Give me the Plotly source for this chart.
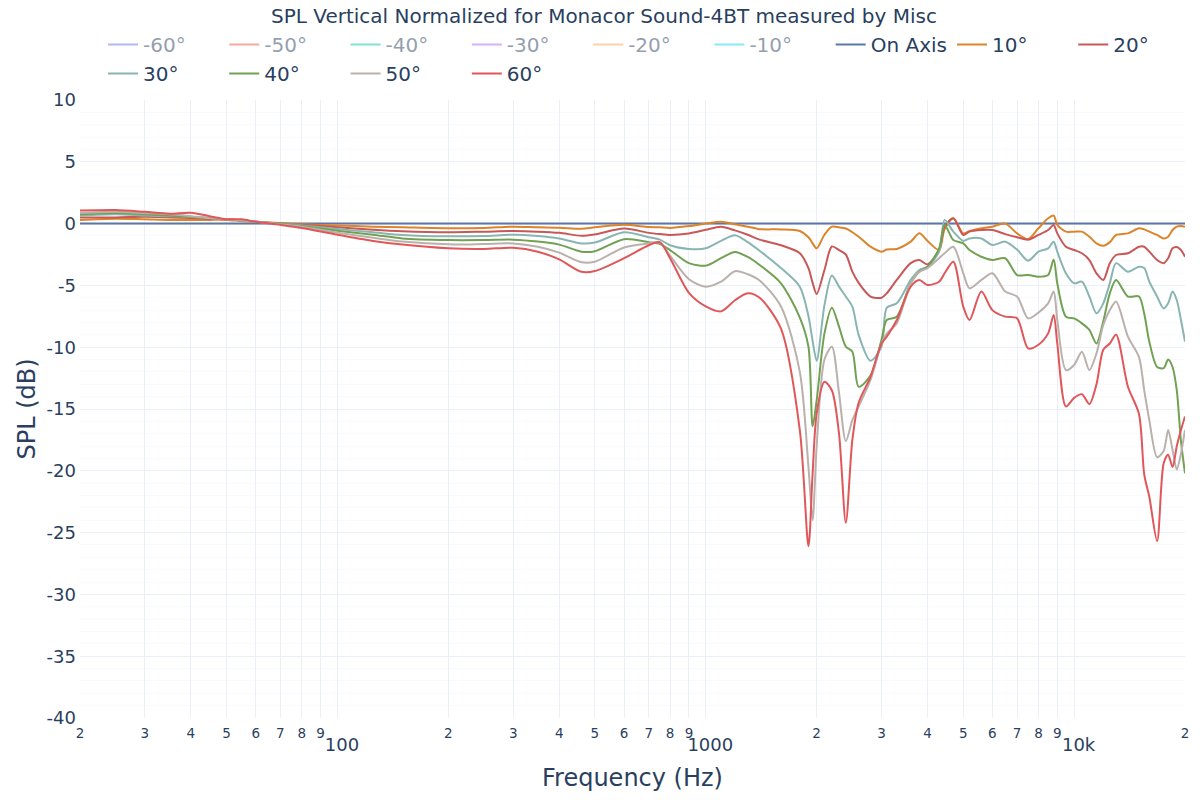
import math
import plotly.graph_objects as go

# ---------------- data ----------------
freq = [20, 25, 30, 35, 40, 45, 50, 55, 60, 70,
        80, 100, 125, 150, 200, 250, 300, 350, 400, 460,
        500, 600, 700, 750, 800, 900, 1000, 1100, 1200, 1300,
        1400, 1600, 1800, 1900, 1950, 2000, 2100, 2200, 2300, 2400,
        2500, 2600, 2800, 3000, 3100, 3300, 3600, 3800, 4000, 4300,
        4450, 4700, 5000, 5200, 5600, 6000, 6500, 7000, 7500, 8000,
        8500, 8800, 9000, 9500, 10000, 10500, 11000, 11500, 12000, 12500,
        13000, 14000, 15000, 15500, 16000, 16800, 17500, 18000, 18500, 19000,
        19500, 20000]

on_axis = [0.0] * len(freq)

deg10 = [0.3, 0.4, 0.35, 0.3, 0.3, 0.3, 0.3, 0.2, 0.15, 0.05,
         -0.05, -0.15, -0.25, -0.3, -0.38, -0.35, -0.25, -0.3, -0.33, -0.42,
         -0.3, -0.1, -0.28, -0.3, -0.35, -0.2, 0.0, 0.15, -0.05, -0.25,
         -0.45, -0.47, -0.6, -1.1, -1.6, -2.0, -0.9, -0.25, -0.3, -0.4,
         -0.7, -1.06, -1.87, -2.27, -2.1, -2.05, -1.46, -0.79, -1.4, -2.14,
         -0.45, 0.43, -0.8, -0.6, -0.38, -0.25, 0.0, -0.79, -1.25, -0.38,
         0.43, 0.65, -0.1, -0.65, -0.65, -0.65, -1.06, -1.6, -1.8, -1.5,
         -0.92, -0.79, -0.38, -0.47, -0.65, -0.92, -1.2, -1.06, -0.52, -0.25,
         -0.2, -0.25]

deg20 = [0.5, 0.5, 0.55, 0.5, 0.45, 0.4, 0.35, 0.25, 0.15, 0.0,
         -0.1, -0.3, -0.5, -0.62, -0.7, -0.65, -0.6, -0.65, -0.75, -0.98,
         -0.87, -0.4, -0.75, -0.85, -0.92, -0.8, -0.5, -0.25, -0.55, -0.9,
         -1.3, -1.75, -2.4, -3.6, -4.8, -5.7, -3.75, -1.85, -2.14, -2.5,
         -3.89, -4.8, -5.9, -6.0, -5.64, -4.56, -3.2, -2.95, -3.3, -2.14,
         -0.25, 0.43, -0.92, -0.65, -0.52, -0.52, -0.85, -1.1, -1.3, -0.92,
         -0.52, -0.11, -0.79, -1.87, -2.14, -2.4, -2.95, -4.02, -4.56, -3.2,
         -2.54, -2.4, -1.87, -1.87, -2.27, -2.95, -3.2, -2.8, -2.0, -1.9,
         -2.14, -2.68]

deg30 = [0.65, 0.75, 0.65, 0.6, 0.55, 0.45, 0.35, 0.25, 0.15, 0.0,
         -0.15, -0.44, -0.7, -0.92, -1.03, -1.0, -0.9, -1.0, -1.2, -1.6,
         -1.53, -0.7, -1.1, -1.3, -1.75, -2.05, -2.0, -1.4, -0.95, -1.5,
         -2.2, -3.6, -5.1, -7.5, -9.5, -11.1, -6.6, -4.2, -5.1, -5.9,
         -6.72, -9.0, -11.1, -9.96, -6.8, -6.45, -4.56, -3.75, -3.49, -2.27,
         0.3, -0.65, -1.4, -1.2, -1.2, -1.73, -1.46, -2.1, -3.0, -2.27,
         -2.0, -1.46, -2.27, -4.02, -4.83, -4.7, -5.9, -7.26, -6.45, -4.83,
         -3.2, -3.89, -3.49, -3.6, -4.7, -5.9, -6.86, -6.45, -5.5, -6.2,
         -7.8, -9.55]

deg40 = [0.75, 0.85, 0.75, 0.65, 0.55, 0.45, 0.35, 0.25, 0.15, 0.0,
         -0.2, -0.57, -0.9, -1.2, -1.33, -1.33, -1.3, -1.45, -1.7, -2.27,
         -2.23, -1.26, -1.5, -1.65, -2.14, -3.2, -3.4, -2.8, -2.3, -2.7,
         -3.35, -4.83, -7.6, -9.96, -16.4, -14.3, -8.88, -6.8, -8.34, -9.96,
         -10.36, -13.2, -12.3, -9.4, -7.8, -7.53, -4.83, -3.89, -3.49, -2.0,
         -0.11, -1.33, -1.6, -2.14, -2.68, -2.94, -2.8, -4.16, -4.16, -4.3,
         -4.16, -2.9, -4.83, -7.53, -7.67, -8.07, -8.6, -9.7, -7.9, -5.64,
         -4.56, -5.9, -5.9, -7.3, -9.55, -11.6, -11.7, -11.0, -11.6, -13.5,
         -17.6, -20.2]

deg50 = [0.85, 0.95, 0.85, 0.75, 0.6, 0.45, 0.35, 0.25, 0.15, -0.05,
         -0.25, -0.73, -1.15, -1.45, -1.68, -1.65, -1.6, -1.87, -2.35, -3.13,
         -3.08, -1.93, -1.6, -1.55, -2.6, -4.5, -5.1, -4.7, -3.85, -4.1,
         -4.6, -6.7, -12.0, -19.7, -24.0, -18.0, -11.0, -9.96, -13.7, -17.6,
         -15.9, -14.8, -12.65, -9.7, -8.9, -8.07, -4.83, -3.89, -3.6, -2.8,
         -2.4, -1.87, -4.0, -5.24, -4.56, -4.02, -5.5, -5.9, -7.67, -7.2,
         -6.45, -5.5, -7.8, -11.85, -11.44, -10.36, -11.85, -10.5, -8.2, -7.0,
         -6.3, -9.15, -10.8, -13.5, -15.9, -18.9, -18.4, -16.7, -18.3, -19.9,
         -18.6, -16.7]

deg60 = [1.05, 1.1, 0.95, 0.8, 0.88, 0.6, 0.35, 0.35, 0.15, -0.1,
         -0.35, -0.9, -1.4, -1.7, -2.0, -2.05, -1.95, -2.27, -2.9, -3.9,
         -3.84, -2.8, -1.75, -1.5, -2.8, -5.6, -6.7, -7.1, -6.2, -5.64,
         -6.0, -8.5, -16.7, -26.1, -20.2, -15.35, -12.8, -13.5, -17.0, -24.2,
         -17.5, -14.5, -12.4, -9.7, -9.15, -7.8, -5.1, -4.56, -4.97, -4.7,
         -4.02, -3.08, -6.72, -7.8, -5.5, -7.0, -7.53, -7.67, -10.1, -9.8,
         -8.88, -7.4, -9.7, -14.8, -14.1, -13.8, -14.6, -13.0, -10.2, -9.7,
         -9.0, -13.2, -15.4, -20.3, -22.1, -25.7, -19.4, -18.7, -19.7, -18.0,
         -16.7, -15.6]

# angles that are only listed in the legend (toggled off, no values shown)
hidden_names = ["-60°", "-50°", "-40°", "-30°", "-20°", "-10°"]
hidden_colors = ["#636efa", "#EF553B", "#00cc96", "#ab63fa", "#FFA15A", "#19d3f3"]

shown_names = ["On Axis", "10°", "20°", "30°", "40°", "50°", "60°"]
shown_colors = ["#5c77a5", "#dc842a", "#c85857", "#89b5b1", "#71a152", "#bab0ac", "#e15759"]
shown_values = [on_axis, deg10, deg20, deg30, deg40, deg50, deg60]

y_tickvals = [10, 5, 0, -5, -10, -15, -20, -25, -30, -35, -40]
y_ticktext = ["10", "5", "0", "-5", "-10", "-15", "-20", "-25", "-30", "-35", "-40"]

title_text = "SPL Vertical Normalized for Monacor Sound-4BT measured by Misc"

# ---------------- figure ----------------
W, H = 1192, 792
fig = go.Figure()
for name, color in zip(hidden_names, hidden_colors):
    fig.add_trace(go.Scatter(x=freq, y=[None] * len(freq), name=name, mode="lines",
                             line=dict(color=color, width=2),
                             visible="legendonly"))
for name, color, vals in zip(shown_names, shown_colors, shown_values):
    fig.add_trace(go.Scatter(x=freq, y=vals, name=name, mode="lines",
                             line=dict(color=color, width=2, shape="spline",
                                       smoothing=0.8)))

fig.update_layout(
    template="plotly_white",
    width=W, height=H,
    font=dict(family="DejaVu Sans", size=18, color="#2a3f5f"),
    title=dict(text=title_text, x=0.5, xanchor="center",
               y=1 - 8 / H, yanchor="middle", font=dict(size=20)),
    legend=dict(orientation="h", x=0.5 - 4 / 1105, xanchor="center",
                y=1 + 75 / 618, yanchor="top", font=dict(size=20)),
    margin=dict(l=72, r=15, t=92, b=82, autoexpand=False),
    showlegend=True,
)
fig.update_xaxes(type="log", range=[math.log10(20), math.log10(20000)],
                 dtick="D1", title=dict(text="Frequency (Hz)", font=dict(size=24)),
                 showgrid=True, ticklabelstandoff=5)
fig.update_yaxes(range=[-40, 10], tickvals=y_tickvals, ticktext=y_ticktext,
                 title=dict(text="SPL (dB)", font=dict(size=24), standoff=4),
                 automargin=True,
                 minor=dict(dtick=1, showgrid=True), ticklabelstandoff=3)

fig.write_html("out.html")
